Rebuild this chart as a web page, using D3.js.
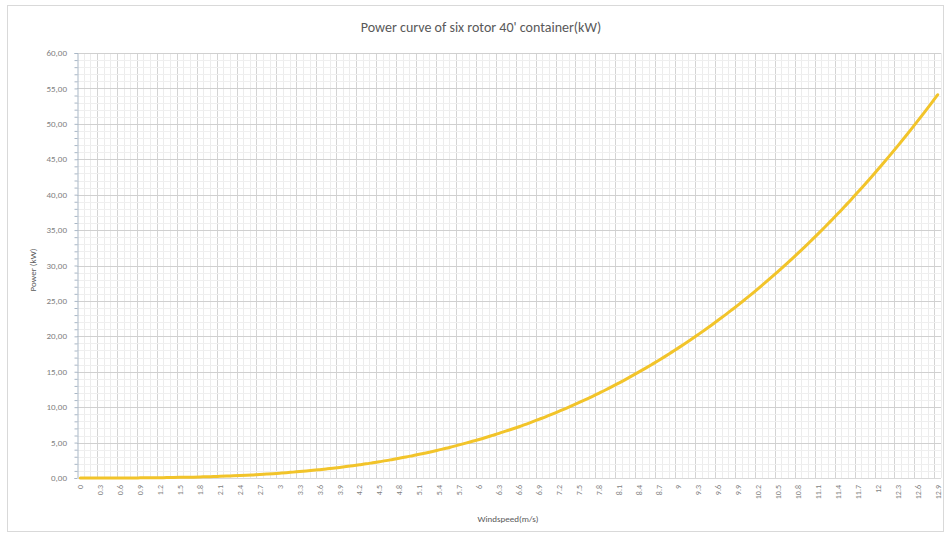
<!DOCTYPE html>
<html>
<head>
<meta charset="utf-8">
<script src="https://cdn.jsdelivr.net/npm/d3@7"></script>
<style>
  body { margin: 0; background: #fff; }
  svg { display: block; font-family: Calibri, Carlito, "Open Sans", "Liberation Sans", sans-serif; }
</style>
</head>
<body>
<svg id="chart" width="946" height="535"></svg>
<script>
// wind speed categories (m/s), one every 0.1
const windspeed = [
  "0","0.1","0.2","0.3","0.4","0.5","0.6","0.7","0.8","0.9",
  "1","1.1","1.2","1.3","1.4","1.5","1.6","1.7","1.8","1.9",
  "2","2.1","2.2","2.3","2.4","2.5","2.6","2.7","2.8","2.9",
  "3","3.1","3.2","3.3","3.4","3.5","3.6","3.7","3.8","3.9",
  "4","4.1","4.2","4.3","4.4","4.5","4.6","4.7","4.8","4.9",
  "5","5.1","5.2","5.3","5.4","5.5","5.6","5.7","5.8","5.9",
  "6","6.1","6.2","6.3","6.4","6.5","6.6","6.7","6.8","6.9",
  "7","7.1","7.2","7.3","7.4","7.5","7.6","7.7","7.8","7.9",
  "8","8.1","8.2","8.3","8.4","8.5","8.6","8.7","8.8","8.9",
  "9","9.1","9.2","9.3","9.4","9.5","9.6","9.7","9.8","9.9",
  "10","10.1","10.2","10.3","10.4","10.5","10.6","10.7","10.8","10.9",
  "11","11.1","11.2","11.3","11.4","11.5","11.6","11.7","11.8","11.9",
  "12","12.1","12.2","12.3","12.4","12.5","12.6","12.7","12.8","12.9"
];

// power (kW)
const power = [
  0.00,0.00,0.00,0.00,0.00,0.00,0.01,0.01,0.01,0.02,
  0.03,0.03,0.04,0.06,0.07,0.09,0.10,0.12,0.15,0.17,
  0.20,0.23,0.27,0.31,0.35,0.39,0.44,0.50,0.55,0.61,
  0.68,0.75,0.83,0.91,0.99,1.08,1.18,1.28,1.38,1.49,
  1.61,1.74,1.87,2.00,2.15,2.30,2.45,2.62,2.79,2.96,
  3.15,3.34,3.54,3.75,3.97,4.19,4.43,4.67,4.92,5.18,
  5.44,5.72,6.01,6.30,6.61,6.92,7.24,7.58,7.92,8.28,
  8.64,9.02,9.41,9.80,10.21,10.63,11.06,11.50,11.96,12.42,
  12.90,13.39,13.89,14.41,14.94,15.48,16.03,16.59,17.17,17.77,
  18.37,18.99,19.62,20.27,20.93,21.61,22.30,23.00,23.72,24.45,
  25.20,25.96,26.74,27.54,28.35,29.17,30.01,30.87,31.74,32.63,
  33.54,34.46,35.40,36.36,37.33,38.33,39.33,40.36,41.40,42.47,
  43.55,44.64,45.76,46.89,48.05,49.22,50.41,51.62,52.85,54.10
];

const yTicks = [0, 5, 10, 15, 20, 25, 30, 35, 40, 45, 50, 55, 60];
const yMinor = d3.range(0, 61, 1);

const title = "Power curve of six rotor 40' container(kW)";
const xTitle = "Windspeed(m/s)";
const yTitle = "Power (kW)";

const W = 946, H = 535;
const margin = { top: 53, right: 5, bottom: 57, left: 77 };
const svg = d3.select("#chart");

// outer chart frame
svg.append("rect")
  .attr("x", 7.5).attr("y", 5.5)
  .attr("width", 936).attr("height", 526)
  .attr("fill", "#fff")
  .attr("stroke", "#d9d9d9");

const x = d3.scaleBand()
  .domain(windspeed)
  .range([margin.left, W - margin.right]);

const y = d3.scaleLinear()
  .domain([0, 60])
  .range([H - margin.bottom, margin.top]);

const g = svg.append("g");

// vertical gridlines, one per category, darker every 3rd
g.selectAll("line.vgrid")
  .data(windspeed)
  .join("line")
  .attr("class", "vgrid")
  .attr("x1", (d) => Math.round(x(d) + x.bandwidth()) + 0.5)
  .attr("x2", (d) => Math.round(x(d) + x.bandwidth()) + 0.5)
  .attr("y1", y(60))
  .attr("y2", y(0))
  .attr("stroke", (d, i) => (i % 3 === 2 ? "#d4d4d4" : "#ececec"))
  .attr("stroke-width", 1);

// minor horizontal gridlines
g.selectAll("line.hminor")
  .data(yMinor.filter((v) => v % 5 !== 0))
  .join("line")
  .attr("class", "hminor")
  .attr("x1", margin.left)
  .attr("x2", W - margin.right)
  .attr("y1", (d) => Math.round(y(d)) + 0.5)
  .attr("y2", (d) => Math.round(y(d)) + 0.5)
  .attr("stroke", "#efefef");

// major horizontal gridlines
g.selectAll("line.hmajor")
  .data(yTicks.filter((v) => v > 0))
  .join("line")
  .attr("class", "hmajor")
  .attr("x1", margin.left)
  .attr("x2", W - margin.right)
  .attr("y1", (d) => Math.round(y(d)) + 0.5)
  .attr("y2", (d) => Math.round(y(d)) + 0.5)
  .attr("stroke", "#d0d0d0");

// y axis
const yAxis = svg.append("g")
  .attr("transform", `translate(${margin.left + 0.5},0)`)
  .call(d3.axisLeft(y).tickValues(yMinor).tickSize(3).tickFormat(""));
yAxis.select(".domain").attr("stroke", "#a9b7c6");
yAxis.selectAll(".tick line").attr("stroke", "#a9b7c6");

svg.append("g")
  .selectAll("text")
  .data(yTicks)
  .join("text")
  .attr("x", margin.left - 10)
  .attr("y", (d) => y(d))
  .attr("dy", "0.35em")
  .attr("text-anchor", "end")
  .attr("font-size", 9)
  .attr("fill", "#7f7f7f")
  .text((d) => d3.format(".2f")(d).replace(".", ","));

// x axis baseline
svg.append("line")
  .attr("x1", margin.left)
  .attr("x2", W - margin.right)
  .attr("y1", Math.round(y(0)) + 0.5)
  .attr("y2", Math.round(y(0)) + 0.5)
  .attr("stroke", "#d9d9d9");

// x tick labels, every third category, rotated
svg.append("g")
  .selectAll("text")
  .data(windspeed.filter((d, i) => i % 3 === 0))
  .join("text")
  .attr("transform", (d) => `translate(${x(d) + x.bandwidth() / 2 + 3},${y(0) + 7}) rotate(-90)`)
  .attr("text-anchor", "end")
  .attr("font-size", 8)
  .attr("fill", "#7f7f7f")
  .text((d) => d);

// power curve
const line = d3.line()
  .x((d, i) => x(windspeed[i]) + x.bandwidth() / 2)
  .y((d) => y(d))
  .curve(d3.curveMonotoneX);

svg.append("path")
  .datum(power)
  .attr("d", line)
  .attr("fill", "none")
  .attr("stroke", "#f2c42a")
  .attr("stroke-width", 3)
  .attr("stroke-linecap", "round");

// titles
svg.append("text")
  .attr("x", 481).attr("y", 32)
  .attr("text-anchor", "middle")
  .attr("font-size", 14)
  .attr("fill", "#595959")
  .text(title);

svg.append("text")
  .attr("x", 508).attr("y", 522)
  .attr("text-anchor", "middle")
  .attr("font-size", 9)
  .attr("fill", "#595959")
  .text(xTitle);

svg.append("text")
  .attr("transform", "translate(36,270) rotate(-90)")
  .attr("text-anchor", "middle")
  .attr("font-size", 9)
  .attr("fill", "#595959")
  .text(yTitle);
</script>
</body>
</html>
